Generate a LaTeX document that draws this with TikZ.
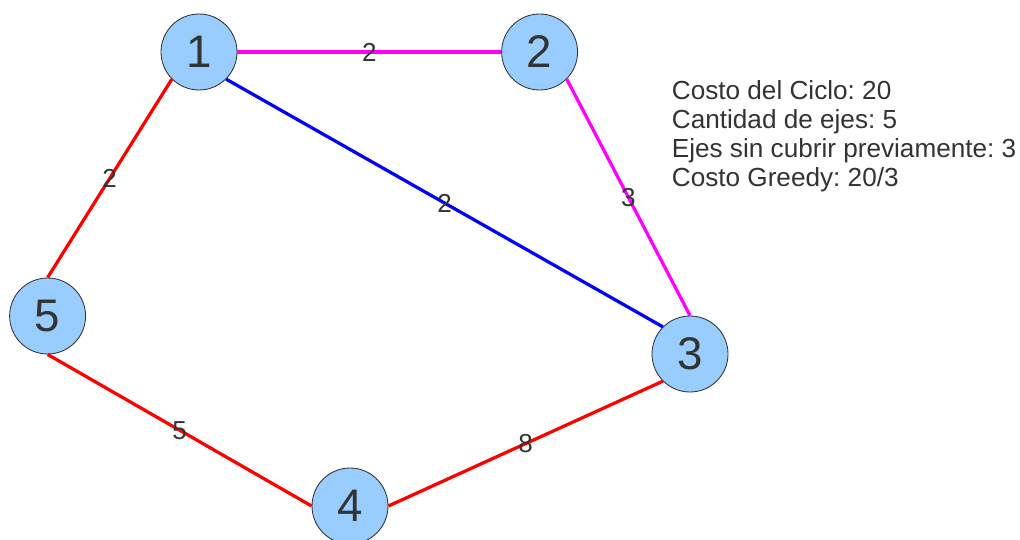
\documentclass[tikz,border=0pt]{standalone}
\usepackage{fontspec}
\setmainfont{Liberation Sans}
\definecolor{nodeblue}{HTML}{99CCFF}
\definecolor{inkgray}{HTML}{333333}
\definecolor{edgepink}{RGB}{255,0,255}
\definecolor{edgeblue}{RGB}{0,0,255}
\definecolor{edgered}{RGB}{255,0,0}
\frenchspacing
\begin{document}
\begin{tikzpicture}[
   vertex/.style={circle,draw=inkgray,line width=0.6pt,fill=nodeblue,minimum size=1.9cm,inner sep=0pt,text=inkgray,font=\fontsize{32.5}{39}\selectfont},
   weight/.style={inner sep=0pt,text=inkgray,font=\fontsize{18.5}{22}\selectfont},
   edge/.style={line width=2.3pt}]
   \useasboundingbox (0,0) rectangle (25.5,13.475);
   \node[vertex] (v1) at (4.975,12.175) {1};
   \node[vertex] (v2) at (13.49,12.175) {2};
   \node[vertex] (v3) at (17.25,4.625) {3};
   \node[vertex] (v4) at (8.75,0.825) {4};
   \node[vertex] (v5) at (1.19,5.575) {5};
\draw[edge,edgepink] (v1.east)--node[weight] {2} (v2.west);
\draw[edge,edgepink] (v2.south east)--node[weight] {3} (v3.north);
\draw[edge,edgeblue]  (v1.south east)--node[weight] {2} (v3.north west);
\draw[edge,edgered]  (v1.south west)--node[weight] {2} (v5.north);
\draw[edge,edgered]  (v5.south)--node[weight] {5} (v4.west);
\draw[edge,edgered]  (v4.east)--node[weight] {8} (v3.south west);
   \node[anchor=north west,align=left,inner sep=0pt,text=inkgray,font=\fontsize{18.6}{20.7}\selectfont] (info) at (16.79,11.47)
      {Costo del Ciclo: 20\\Cantidad de ejes: 5\\Ejes sin cubrir previamente: 3\\Costo Greedy: 20/3};
\end{tikzpicture}
\end{document}
